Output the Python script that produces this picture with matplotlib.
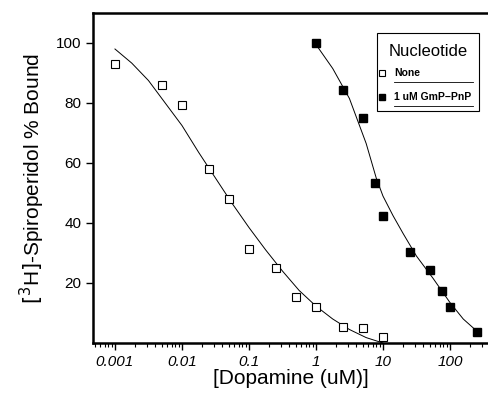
import matplotlib
matplotlib.use("Agg")
import matplotlib.pyplot as plt
from matplotlib.patches import Rectangle

plt.rcParams['font.family'] = ['Liberation Sans', 'DejaVu Sans']

# measured binding, no nucleotide (open squares)
none_x = [0.001, 0.005, 0.01, 0.025, 0.05, 0.1, 0.25, 0.5, 1, 2.5, 5, 10]
none_y = [93, 86, 79.5, 58, 48, 31.5, 25, 15.5, 12, 5.5, 5, 2]

# measured binding, 1 uM GmP-PnP (filled squares)
gpp_x = [1, 2.5, 5, 7.5, 10, 25, 50, 75, 100, 250]
gpp_y = [100, 84.5, 75, 53.5, 42.5, 30.5, 24.5, 17.5, 12, 3.8]

# fitted curves
none_fit_x = [0.001, 0.00178, 0.00316, 0.00562, 0.01, 0.0178, 0.0316, 0.0562,
              0.1, 0.178, 0.316, 0.562, 1, 1.78, 3.16, 5.62, 10]
none_fit_y = [98, 93.3, 87.5, 80, 72.5, 63.5, 55, 46.5,
              38.5, 31, 24, 17.5, 12.3, 8, 4.5, 1.8, 0]
gpp_fit_x = [1, 1.78, 3.16, 5.62, 7.94, 10, 14.1, 20, 31.6, 56.2, 100, 158, 251]
gpp_fit_y = [99.5, 91.5, 81.5, 66.5, 55, 49, 42.5, 36.5, 29, 21.5, 13.5, 8, 4]

xticks = [0.001, 0.01, 0.1, 1, 10, 100]
xticklabels = ['0.001', '0.01', '0.1', '1', '10', '100']
yticks = [20, 40, 60, 80, 100]

legend_title = 'Nucleotide'
legend_labels = ['None', '1 uM GmP\u2212PnP']

fig = plt.figure(figsize=(4.88, 3.95), dpi=100)
ax = fig.add_axes([93 / 488, 52 / 395, 395 / 488, 330 / 395])

ax.plot(none_fit_x, none_fit_y, color='black', lw=0.7)
ax.plot(gpp_fit_x, gpp_fit_y, color='black', lw=0.7)
ax.plot(none_x, none_y, ls='none', marker='s', ms=5.5, mfc='white',
        mec='black', mew=0.8)
ax.plot(gpp_x, gpp_y, ls='none', marker='s', ms=5.5, mfc='black', mec='black')

ax.set_xscale('log')
ax.set_xlim(0.00047, 370)
ax.set_ylim(0, 110)
ax.set_xticks(xticks)
ax.set_xticklabels(xticklabels, fontstyle='italic', fontsize=11)
ax.set_yticks(yticks)
ax.tick_params(axis='y', labelsize=11, length=5, width=1, direction='out')
ax.tick_params(axis='x', which='major', length=5, width=1, direction='out', pad=4)
ax.tick_params(axis='x', which='minor', length=3, width=0.8, direction='out')

for s in ['left', 'bottom', 'top']:
    ax.spines[s].set_linewidth(1.8)
ax.spines['right'].set_visible(False)

ax.set_xlabel('[Dopamine (uM)]', fontsize=15, labelpad=0)
ax.set_ylabel('$[^3$H$]$-Spiroperidol % Bound', fontsize=15, labelpad=6)

# legend box drawn by hand (title, keys and underlined entries)
tr = ax.transAxes
ax.add_patch(Rectangle((0.719, 0.703), 0.258, 0.236, transform=tr,
                       fill=False, ec='black', lw=0.8, clip_on=False))
ax.text(0.848, 0.882, legend_title, transform=tr, ha='center', va='center',
        fontsize=12)
key_style = [dict(mfc='white', mec='black', mew=0.8),
             dict(mfc='black', mec='black')]
for lab, yy, st in zip(legend_labels, (0.818, 0.745), key_style):
    ax.plot([0.731], [yy], ls='none', marker='s', ms=5, transform=tr,
            clip_on=False, **st)
    ax.text(0.763, yy, lab, transform=tr, ha='left', va='center',
            fontsize=7.5, fontweight='bold')
    ax.plot([0.763, 0.962], [yy - 0.027, yy - 0.027], color='black', lw=0.6,
            transform=tr, clip_on=False)

fig.savefig('out.png', dpi=100)
